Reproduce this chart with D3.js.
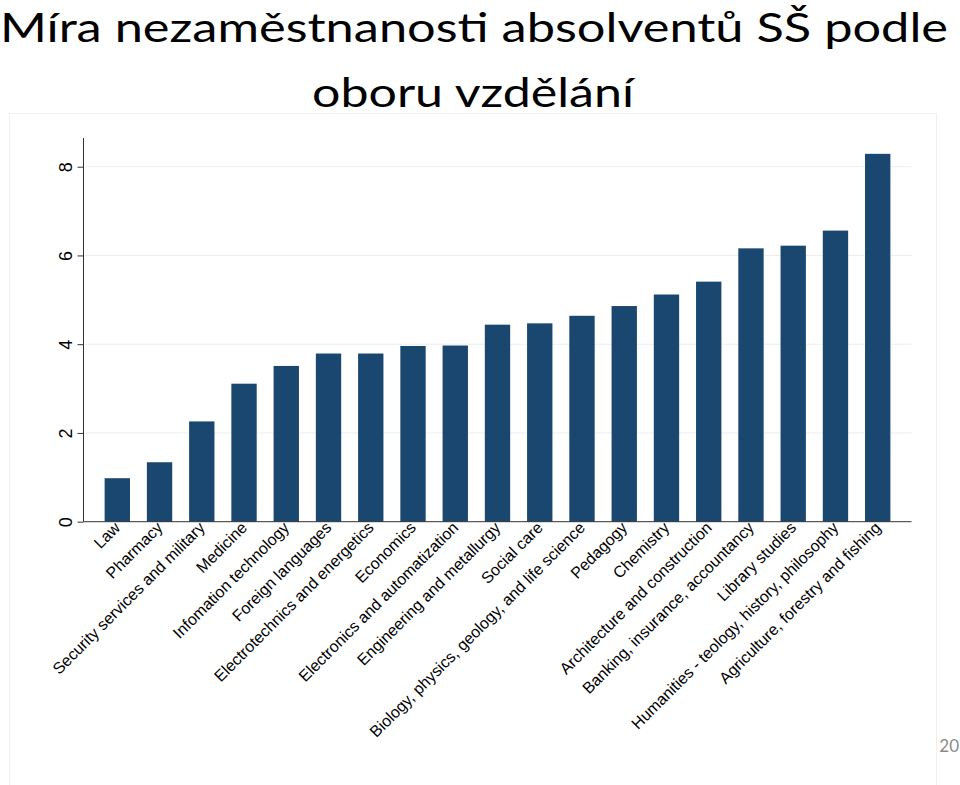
<!DOCTYPE html>
<html>
<head>
<meta charset="utf-8">
<script src="https://cdn.jsdelivr.net/npm/d3@7"></script>
<style>
  html, body { margin: 0; padding: 0; background: #fff; }
  svg { display: block; }
</style>
</head>
<body>
<script>
const titleLines = ["Míra nezaměstnanosti absolventů SŠ podle", "oboru vzdělání"];
const categories = [
  "Law", "Pharmacy", "Security services and military", "Medicine",
  "Infomation technology", "Foreign languages", "Electrotechnics and energetics",
  "Economics", "Electronics and automatization", "Engineering and metallurgy",
  "Social care", "Biology, physics, geology, and life science", "Pedagogy",
  "Chemistry", "Architecture and construction", "Banking, insurance, accountancy",
  "Library studies", "Humanities - teology, history, philosophy",
  "Agriculture, forestry and fishing"
];
const values = [0.98, 1.34, 2.26, 3.11, 3.51, 3.79, 3.79, 3.96, 3.97, 4.44,
                4.47, 4.64, 4.86, 5.12, 5.41, 6.16, 6.22, 6.56, 8.29];
const yTicks = [0, 2, 4, 6, 8];
const pageNumber = "20";

const W = 960, H = 785;
const svg = d3.select("body").append("svg").attr("width", W).attr("height", H);

// faint frame of the embedded chart picture
svg.append("rect")
  .attr("x", 9.5).attr("y", 113.5).attr("width", 927).attr("height", 700)
  .attr("fill", "none").attr("stroke", "#efefef").attr("stroke-width", 1);

// title
const titleWidths = [948, 322];
const titleCenters = [474, 473];
const titleBase = [42, 107];
titleLines.forEach((t, i) => {
  svg.append("text")
    .attr("x", titleCenters[i]).attr("y", titleBase[i])
    .attr("text-anchor", "middle")
    .attr("font-family", "Lato, 'Open Sans', sans-serif")
    .attr("font-size", 40)
    .attr("fill", "#000")
    .attr("textLength", titleWidths[i])
    .attr("lengthAdjust", "spacingAndGlyphs")
    .text(t);
});

const x = d3.scaleBand().domain(categories).range([83.5, 911.5])
  .paddingInner(0.4).paddingOuter(0.5);
const y = d3.scaleLinear().domain([0, 8]).range([521.7, 166.7]);

// gridlines
svg.append("g").selectAll("line").data(yTicks.filter(d => d > 0)).join("line")
  .attr("x1", 85).attr("x2", 911.5)
  .attr("y1", d => y(d)).attr("y2", d => y(d))
  .attr("stroke", "#e9eef0").attr("stroke-width", 1);

// bars
svg.append("g").selectAll("rect").data(values).join("rect")
  .attr("x", (d, i) => x(categories[i]))
  .attr("width", x.bandwidth())
  .attr("y", d => y(d))
  .attr("height", d => y(0) - y(d))
  .attr("fill", "#1a476f");

// y axis
const yAxis = svg.append("g").attr("transform", "translate(83.5,0)")
  .call(d3.axisLeft(y).tickValues(yTicks).tickSize(6).tickFormat(d3.format("d")));
yAxis.select(".domain").attr("d", `M0,${y(0)}V138`).attr("stroke", "#333");
yAxis.selectAll(".tick line").attr("stroke", "#333");
yAxis.selectAll(".tick text")
  .attr("x", null).attr("dy", null)
  .attr("transform", "translate(-12,0) rotate(-90)")
  .attr("text-anchor", "middle")
  .attr("font-family", "'Liberation Sans', Arial, sans-serif")
  .attr("font-size", 18)
  .attr("fill", "#000");

// x axis
const xAxis = svg.append("g").attr("transform", `translate(0,${y(0)})`)
  .call(d3.axisBottom(x).tickSize(0).tickSizeOuter(0));
xAxis.select(".domain").attr("d", "M83.5,0H911.5").attr("stroke", "#333");
xAxis.selectAll(".tick text")
  .attr("y", null).attr("dy", null)
  .attr("transform", "translate(4,7) rotate(-45)")
  .attr("text-anchor", "end")
  .attr("font-family", "'Liberation Sans', Arial, sans-serif")
  .attr("font-size", 16)
  .attr("fill", "#000");

// page number
svg.append("text")
  .attr("x", 959).attr("y", 752)
  .attr("text-anchor", "end")
  .attr("font-family", "Lato, 'Open Sans', sans-serif")
  .attr("font-size", 17)
  .attr("fill", "#8a8a8a")
  .text(pageNumber);
</script>
</body>
</html>
